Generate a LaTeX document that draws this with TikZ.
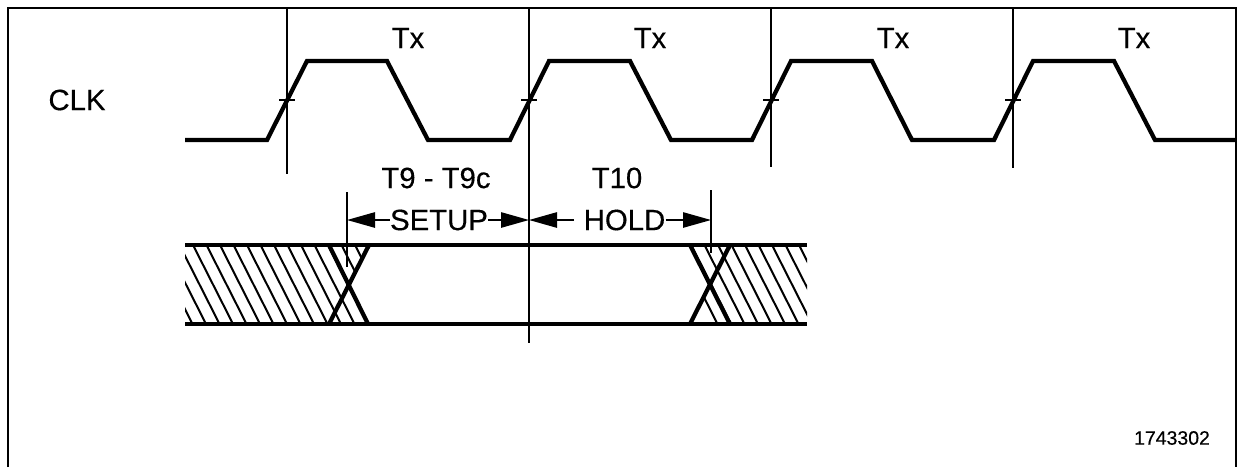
\documentclass[tikz,border=0pt]{standalone}
\usepackage{fontspec}
\setmainfont{Liberation Sans}[FakeBold=0.35]
\usetikzlibrary{arrows.meta}
\tikzset{
  >={Stealth[length=21pt,width=11.5pt,inset=0pt]},
  frame/.style={draw=black,line width=1.9pt},
  sig/.style={draw=black,line width=3.2pt,line join=miter},
  thin/.style={draw=black,line width=1.2pt},
  hatchline/.style={draw=black,line width=1.5pt},
  lbl/.style={font=\fontsize{22}{24}\selectfont,inner sep=0pt},
  dim/.style={->,draw=black,line width=1.2pt},
}
\begin{document}
\begin{tikzpicture}[x=0.75pt,y=-0.75pt]
  \useasboundingbox (0,0) rectangle (1237,468);
  \draw[frame] (8,467) -- (8,8) -- (1236,8) -- (1236,467);
  % clock
  \draw[sig] (185,140) -- (267,140) -- (307,61) -- (387,61) -- (428,140)
    -- (510,140) -- (549,61) -- (630,61) -- (671,140)
    -- (752,140) -- (791,61) -- (872,61) -- (912,140)
    -- (994,140) -- (1033,61) -- (1114,61) -- (1155,140) -- (1237,140);
  \foreach \x/\b in {287/174,529/343,771/167,1013/168}{
    \draw[thin] (\x,8) -- (\x,\b);
    \draw[thin] (\x-8,100) -- (\x+8,100);
  }
  \node[lbl] (clk) at (77,100) {CLK};
  \foreach \x/\n in {408/a,650/b,893/c,1134/d}
    \node[lbl] (tx\n) at (\x,38) {Tx};
  \node[lbl] (tsetup) at (436,178) {T9 - T9c};
  \node[lbl] (thold) at (617,178) {T10};
  \node[lbl,font=\fontsize{14.6}{16}\selectfont] (fig) at (1172,438) {1743302};
  % data band
  \begin{scope}
    \clip (185,245) -- (369,245) -- (349,285) -- (368,324) -- (185,324) -- cycle;
    \foreach \k in {-6,...,13}
      \draw[hatchline] (193+13.5*\k,245) -- ++(40,79);
  \end{scope}
  \begin{scope}
    \clip (690,245) -- (710,285) -- (690,324) -- (807,324) -- (807,245) -- cycle;
    \foreach \k in {-1,...,9}
      \draw[hatchline] (691+13.5*\k,245) -- ++(40,79);
  \end{scope}
  \draw[sig] (185,245) -- (807,245);
  \draw[sig] (185,324) -- (807,324);
  \draw[sig] (329,245) -- (368,324);
  \draw[sig] (329,324) -- (369,245);
  \draw[sig] (690,245) -- (730,324);
  \draw[sig] (690,324) -- (730,245);
  % setup and hold
  \draw[thin,line width=1.5pt] (347,192) -- (347,267);
  \draw[thin,line width=1.5pt] (711,190) -- (711,253);
  \coordinate (sl) at (347,220);
  \coordinate (mid) at (529,220);
  \coordinate (hr) at (711,220);
  \node[lbl] (setup) at (439,220) {SETUP};
  \node[lbl] (hold) at (624.5,220) {HOLD};
  \draw[dim] (setup.west) -- (sl);
  \draw[dim] (setup.east) -- (mid);
  \draw[dim] ([xshift=-7pt]hold.west) -- (mid);
  \draw[dim] (hold.east) -- (hr);
\end{tikzpicture}
\end{document}
